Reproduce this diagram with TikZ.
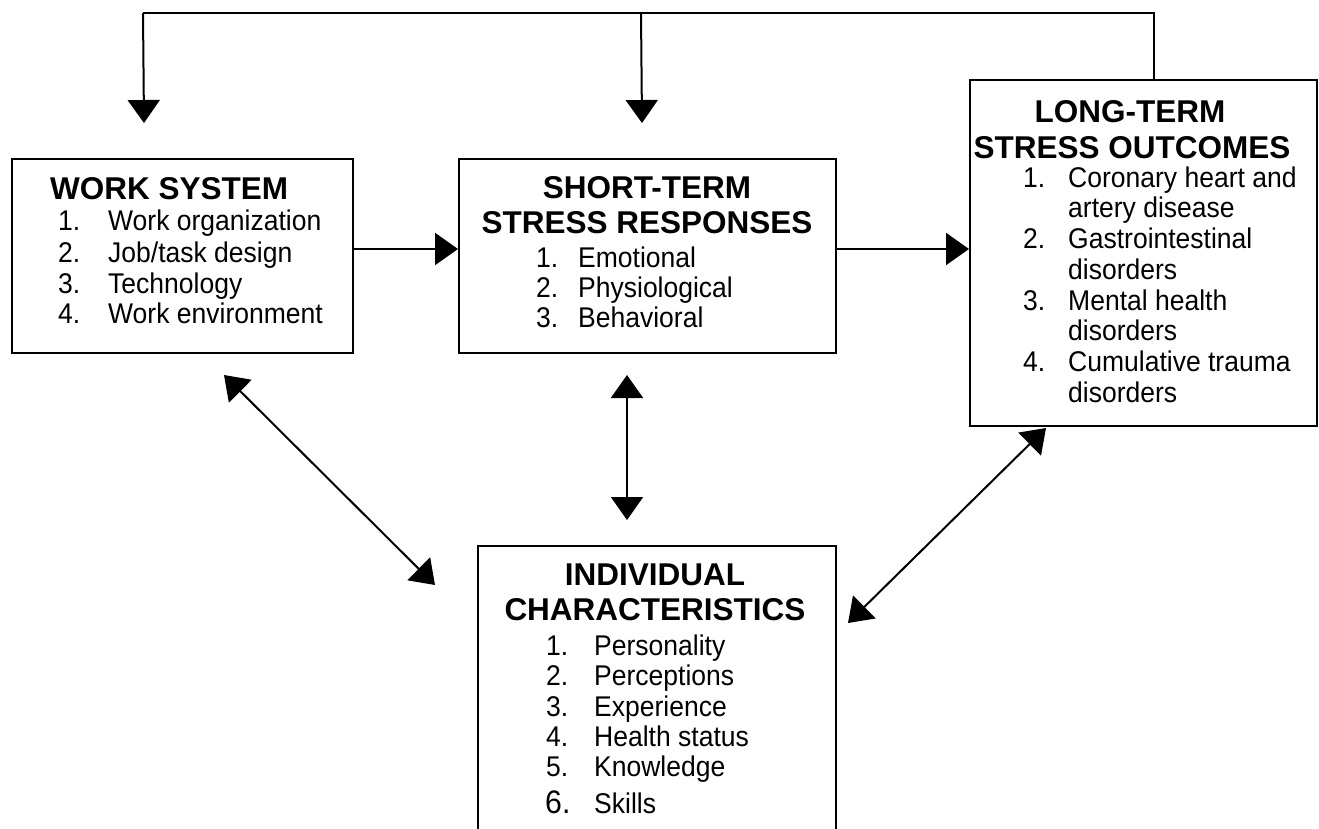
\documentclass[tikz,border=0pt]{standalone}
\usepackage{fontspec}
\setmainfont{Liberation Sans}
% slightly condensed face for the list entries
\newfontfamily\listfont{Liberation Sans}[FakeStretch=0.93]
\usetikzlibrary{arrows.meta}

\tikzset{
  box/.style={draw, line width=2pt, inner sep=0pt, anchor=north west},
  head/.style={font=\fontsize{31.5}{36}\selectfont\bfseries, inner sep=0pt, anchor=base},
  item/.style={font=\listfont\fontsize{28.5}{32}\selectfont, inner sep=0pt, anchor=base west},
  link/.style={line width=2pt, -{Triangle[length=23pt,width=32pt]}},
  twoway/.style={line width=2pt, {Triangle[length=23pt,width=32pt]}-{Triangle[length=23pt,width=32pt]}},
  loopline/.style={line width=1.5pt},
}

\begin{document}
\begin{tikzpicture}[x=1pt, y=-1pt]
\useasboundingbox (0,0) rectangle (1319,828);
\clip (0,0) rectangle (1319,828);

% ---- boxes ----
\node[box, minimum width=341pt, minimum height=194pt] (work)  at (11,158)  {};
\node[box, minimum width=377pt, minimum height=194pt] (short) at (458,158) {};
\node[box, minimum width=347pt, minimum height=346pt] (long)  at (969,79)  {};
\node[box, minimum width=358pt, minimum height=292pt] (indiv) at (477,545) {};

% ---- work system ----
\node[head, anchor=base west] (wsh) at (50,199) {WORK SYSTEM};
\foreach \y/\n/\t [count=\k] in {230/1./Work organization,262/2./{Job/task design},293/3./Technology,323/4./Work environment}{
  \node[item] (wsn\k) at (58,\y) {\n};
  \node[item] (wst\k) at (108,\y) {\t};
}

% ---- short-term responses ----
\node[head] (sth1) at (647,198) {SHORT-TERM};
\node[head] (sth2) at (647,233) {STRESS RESPONSES};
\foreach \y/\n/\t [count=\k] in {267/1./Emotional,297/2./Physiological,327/3./Behavioral}{
  \node[item] (stn\k) at (536,\y) {\n};
  \node[item] (stt\k) at (578,\y) {\t};
}

% ---- long-term outcomes ----
\node[head] (lth1) at (1130,122) {LONG-TERM};
\node[head] (lth2) at (1132,158) {STRESS OUTCOMES};
\foreach \y/\n [count=\k] in {187/1.,248.4/2.,310/3.,371/4.}{
  \node[item] (ltn\k) at (1023,\y) {\n};
}
\foreach \y/\t [count=\k] in {187/Coronary heart and,217.7/artery disease,248.4/Gastrointestinal,279/disorders,310/Mental health,340.5/disorders,371/Cumulative trauma,402/disorders}{
  \node[item] (ltt\k) at (1068,\y) {\t};
}

% ---- individual characteristics ----
\node[head] (ich1) at (655,585) {INDIVIDUAL};
\node[head] (ich2) at (655,620) {CHARACTERISTICS};
\foreach \y/\n/\t [count=\k] in {655/1./Personality,685/2./Perceptions,716/3./Experience,746/4./Health status,776/5./Knowledge}{
  \node[item] (icn\k) at (546,\y) {\n};
  \node[item] (ict\k) at (594,\y) {\t};
}
\node[item, font=\listfont\fontsize{32.5}{36}\selectfont] (icn6) at (545,813) {6.};
\node[item] (ict6) at (594,813) {Skills};

% ---- feedback loop from long-term outcomes ----
\coordinate (fbL) at (143,13);
\coordinate (fbM) at (641,13);
\draw[loopline] ([xshift=10.5pt]long.north) |- (fbL);
\draw[link] (fbL) -- ([xshift=-38.5pt, yshift=35pt]work.north);
\draw[link] (fbM) -- ([xshift=-5.5pt, yshift=35pt]short.north);

% ---- forward flow ----
\draw[link] ([yshift=7pt]work.east) -- ([yshift=7pt]short.west);
\draw[link] ([yshift=7pt]short.east) -- ([yshift=4pt]long.west);

% ---- links with individual characteristics ----
\draw[twoway] ([xshift=-20.5pt, yshift=-21pt]short.south) -- ([xshift=-30pt, yshift=25pt]indiv.north);
\draw[twoway] ([xshift=41.5pt, yshift=-21pt]work.south) -- ([xshift=-42pt, yshift=-40pt]indiv.north west);
\draw[twoway] ([xshift=-97.5pt, yshift=-1pt]long.south) -- ([xshift=11pt, yshift=-78pt]indiv.north east);
\end{tikzpicture}
\end{document}
